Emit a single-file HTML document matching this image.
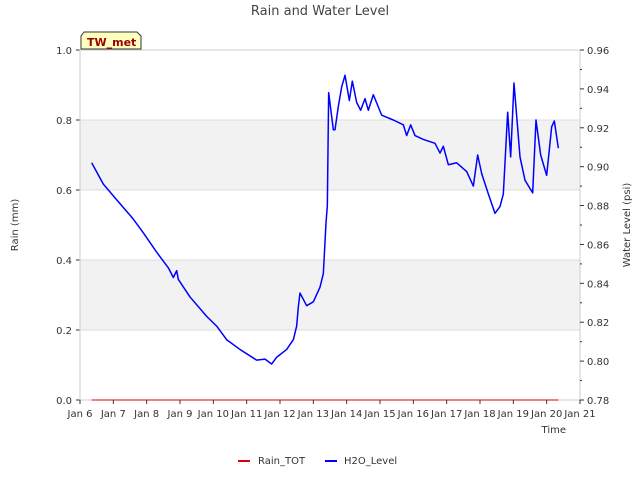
<!DOCTYPE html>
<html><head><meta charset="utf-8"><style>
body{margin:0;background:#fff;font-family:"Liberation Sans","DejaVu Sans",sans-serif}
text{font-family:"DejaVu Sans","Liberation Sans",sans-serif}
</style></head><body>
<svg id="chart" width="640" height="480" xmlns="http://www.w3.org/2000/svg"></svg>
<script>
const dayLabels=["Jan 6","Jan 7","Jan 8","Jan 9","Jan 10","Jan 11","Jan 12","Jan 13","Jan 14","Jan 15","Jan 16","Jan 17","Jan 18","Jan 19","Jan 20","Jan 21"];
const leftTicks=[0.0,0.2,0.4,0.6,0.8,1.0];
const rightTicks=[0.78,0.80,0.82,0.84,0.86,0.88,0.90,0.92,0.94,0.96];
const levelDays=[0.35,0.7,1.0,1.3,1.6,1.9,2.3,2.65,2.8,2.9,2.95,3.3,3.8,4.1,4.4,4.8,5.3,5.55,5.75,5.9,6.2,6.4,6.5,6.55,6.6,6.8,7.0,7.2,7.3,7.38,7.42,7.46,7.6,7.65,7.75,7.85,7.95,8.08,8.17,8.3,8.42,8.55,8.65,8.8,9.05,9.4,9.7,9.8,9.92,10.05,10.3,10.65,10.8,10.9,11.05,11.3,11.6,11.8,11.93,12.05,12.25,12.45,12.6,12.7,12.83,12.92,13.02,13.2,13.35,13.58,13.68,13.82,14.0,14.15,14.23,14.35];
const levelValues=[0.902,0.891,0.885,0.879,0.873,0.866,0.856,0.848,0.843,0.8465,0.842,0.833,0.823,0.818,0.811,0.806,0.8005,0.801,0.7985,0.802,0.806,0.811,0.818,0.828,0.835,0.8285,0.8305,0.838,0.845,0.871,0.880,0.938,0.919,0.919,0.931,0.941,0.947,0.934,0.944,0.933,0.929,0.935,0.929,0.937,0.9265,0.924,0.9215,0.916,0.9215,0.916,0.914,0.912,0.907,0.9105,0.901,0.902,0.8975,0.890,0.906,0.8965,0.886,0.876,0.8795,0.886,0.928,0.905,0.943,0.905,0.893,0.8865,0.924,0.906,0.8955,0.9205,0.9235,0.9095];
const rainDays=[0.35,14.35];
const rainValues=[0,0];

const L=80,R=580,T=50,B=400;
const xS=d=>L+d*(R-L)/15;
const yL=v=>B-v*(B-T);
const yR=v=>B-(v-0.78)/(0.18)*(B-T);
const svg=document.getElementById('chart');
const NS='http://www.w3.org/2000/svg';
function mk(tag,attrs,parent){const e=document.createElementNS(NS,tag);for(const k in attrs)e.setAttribute(k,attrs[k]);(parent||svg).appendChild(e);return e;}

[[0.6,0.8],[0.2,0.4]].forEach(b=>{
  const r=mk('rect',{x:L,y:yL(b[1]),width:R-L,height:yL(b[0])-yL(b[1]),fill:'#f2f2f2'});
  
  
});
leftTicks.forEach(t=>{
  const g=mk('line',{x1:L,x2:R,y1:yL(t),y2:yL(t),stroke:'#dcdcdc','stroke-width':1});
  
  
  const tx=mk('text',{x:L-8,y:yL(t)+4,'text-anchor':'end','font-size':10,fill:'#333'});
  tx.textContent=t.toFixed(1);
  
  
  mk('line',{x1:L-4,x2:L,y1:yL(t),y2:yL(t),stroke:'#333'});
});
const frame=mk('rect',{x:L,y:T,width:R-L,height:B-T,fill:'none',stroke:'#ccc'});



rightTicks.forEach((t,i)=>{
  mk('line',{x1:R,x2:R+4,y1:yR(t),y2:yR(t),stroke:'#333'});
  if(i<rightTicks.length-1)mk('line',{x1:R,x2:R+2,y1:yR(t+0.01),y2:yR(t+0.01),stroke:'#333'});
  const tx=mk('text',{x:R+7,y:yR(t)+4,'font-size':10,fill:'#333'});
  tx.textContent=t.toFixed(2);
  
  
});
dayLabels.forEach((d,i)=>{
  mk('line',{x1:xS(i),x2:xS(i),y1:B,y2:B+4,stroke:'#333'});
  const tx=mk('text',{x:xS(i),y:B+17,'text-anchor':'middle','font-size':10,fill:'#333'});
  tx.textContent=d;
  
  
});

const rain=mk('polyline',{points:rainDays.map((d,i)=>xS(d)+','+yL(rainValues[i])).join(' '),fill:'none',stroke:'#d00','stroke-width':1});


const lvl=mk('polyline',{points:levelDays.map((d,i)=>xS(d)+','+yR(levelValues[i])).join(' '),fill:'none',stroke:'#0000ff','stroke-width':1.5,'stroke-linejoin':'round'});



function label(x,y,s,txt,name,extra){const e=mk('text',Object.assign({x:x,y:y,'font-size':s,fill:'#333'},extra||{}));e.textContent=txt;return e;}
label(320,15,13,'Rain and Water Level','chart-title',{'text-anchor':'middle',fill:'#444'});
label(566,433,10,'Time','x-axis-title',{'text-anchor':'end'});
label(18,225,10,'Rain (mm)','left-axis-title',{'text-anchor':'middle',transform:'rotate(-90 18 225)'});
label(630,225,10,'Water Level (psi)','right-axis-title',{'text-anchor':'middle',transform:'rotate(-90 630 225)'});

const badge=mk('path',{d:'M81,36 L84,32 L137,32 L141,36 L141,49 L81,49 Z',fill:'#ffffc0',stroke:'#333'});


label(87,46,11,'TW_met','station-label',{fill:'#990000','font-weight':'bold'});

const l1=mk('line',{x1:238,x2:250,y1:461,y2:461,stroke:'#d00','stroke-width':2});


label(258,464,10,'Rain_TOT','legend-entry-rain');
const l2=mk('line',{x1:325,x2:337,y1:461,y2:461,stroke:'#0000ff','stroke-width':2});


label(344,464,10,'H2O_Level','legend-entry-h2o');
</script>
</body></html>
